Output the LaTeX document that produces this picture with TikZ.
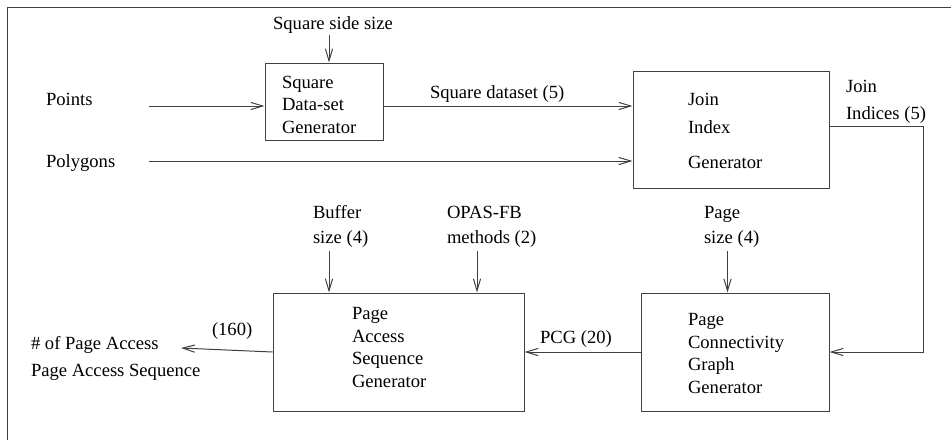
\documentclass[tikz,border=0pt]{standalone}
\usepackage{fontspec}
\setmainfont{Liberation Serif}
\usetikzlibrary{arrows.meta}

\definecolor{strokecol}{rgb}{0.25,0.25,0.25}

\begin{document}
\begin{tikzpicture}[x=0.5pt, y=-0.5pt,
    line width=0.5pt,
    font=\fontsize{9.3}{11.25}\selectfont,
    arr/.style={-{Straight Barb[length=6pt,width=3.6pt]}, draw=strokecol},
    blk/.style={draw=strokecol, rectangle, inner sep=0pt},
    lbl/.style={inner sep=0pt, outer sep=0pt, anchor=base west, align=left}]

    \useasboundingbox (0,0) rectangle (951,440);

    % frame
    \draw[strokecol] (7,440) -- (7,7) -- (951,7);

    % boxes
    \node[blk, minimum width=59pt, minimum height=38.5pt]  (sdg)  at (324,101.5) {};
    \node[blk, minimum width=98pt, minimum height=58.5pt]  (jig)  at (731,129.5) {};
    \node[blk, minimum width=94pt, minimum height=59pt]    (pcg)  at (735,352) {};
    \node[blk, minimum width=125.5pt, minimum height=59pt] (pasg) at (398.5,352) {};

    % box texts (base = last line)
    \node[lbl] (sdgtxt) at (282,133) {Square\\Data-set\\Generator};
    \node[lbl] (jigtxt) at (688,168) {Join\\[3pt]Index\\[6pt]Generator};
    \node[lbl] (pcgtxt) at (688,393) {Page\\Connectivity\\Graph\\Generator};
    \node[lbl] (pasgtxt) at (352,387) {Page\\Access\\Sequence\\Generator};

    % inputs and outputs
    \node[lbl, anchor=base] (side) at (333,29) {Square side size};
    \node[lbl] (points) at (46,105) {Points};
    \node[lbl] (polys) at (46,167) {Polygons};
    \node[lbl] (sqds) at (430,98) {Square dataset (5)};
    \node[lbl] (jidx) at (846,119) {Join\\[2pt]Indices (5)};
    \node[lbl] (buf) at (313,243) {Buffer\\[1pt]size (4)};
    \node[lbl] (opas) at (447,243) {OPAS-FB\\[1pt]methods (2)};
    \node[lbl] (psize) at (704,243) {Page\\[1pt]size (4)};
    \node[lbl] (pcglbl) at (540,343) {PCG (20)};
    \node[lbl] (cnt) at (212,335) {(160)};
    \node[lbl] (outs) at (31,376) {\# of Page Access\\[2pt]Page Access Sequence};

    \coordinate (sidee) at (329,35);
    \coordinate (ptse) at (149,106);
    \coordinate (polye) at (149,161);
    \coordinate (bufe) at (329,251);
    \coordinate (opase) at (477,251);
    \coordinate (psizee) at (727.5,251);
    \coordinate (oute) at (181,348);
    \coordinate (jcorner) at (923,126);

    % connectors
    \draw[arr] (sidee) -- (sidee |- sdg.north);
    \draw[arr] (ptse) -- (ptse -| sdg.west);
    \draw[arr] (polye) -- (polye -| jig.west);
    \draw[arr] (ptse -| sdg.east) -- (ptse -| jig.west);
    \draw[arr] (jcorner -| jig.east) -- (jcorner) |- (pcg.east);
    \draw[arr] (psizee) -- (psizee |- pcg.north);
    \draw[arr] (pcg.west) -- (pasg.east);
    \draw[arr] (bufe) -- (bufe |- pasg.north);
    \draw[arr] (opase) -- (opase |- pasg.north);
    \draw[arr] (pasg.west) -- (oute);
\end{tikzpicture}
\end{document}
